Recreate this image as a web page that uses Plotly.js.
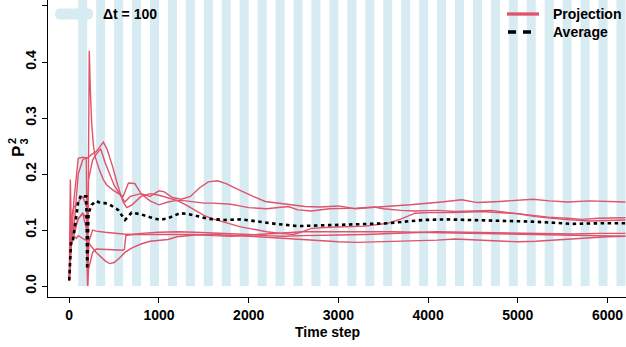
<!DOCTYPE html>
<html>
<head>
<meta charset="utf-8">
<script src="https://cdn.plot.ly/plotly-3.0.1.min.js"></script>
<style>html,body{margin:0;padding:0;background:#fff;}#chart{width:626px;height:347px;}</style>
</head>
<body>
<div id="chart"></div>
<script>
// ---- data ----
const xTickVals = [0, 1000, 2000, 3000, 4000, 5000, 6000];
const yTickVals = [0.0, 0.1, 0.2, 0.3, 0.4, 0.5];
const yTickText = ["0.0", "0.1", "0.2", "0.3", "0.4", "0.5"];
const dt = 100;          // stripe width (Δt)
const stripeEnd = 6400;  // stripes run past right edge

// Projection 1 (top line, hump near t=1600)
const t1 = [0,12,25,60,100,150,190,200,215,260,300,350,400,450,500,560,620,680,800,900,1000,1060,1150,1250,1350,1450,1550,1650,1750,1850,1950,2050,2184,2400,2627,2800,3000,3186,3400,3600,3800,3966,4150,4375,4550,4800,5000,5170,5350,5560,5800,6000,6200];
const y1 = [0.01,0.19,0.08,0.12,0.20,0.225,0.23,0.05,0.19,0.225,0.235,0.245,0.22,0.20,0.18,0.165,0.15,0.16,0.165,0.16,0.17,0.168,0.158,0.155,0.16,0.175,0.186,0.188,0.183,0.175,0.167,0.16,0.151,0.146,0.142,0.141,0.143,0.138,0.141,0.143,0.145,0.148,0.15,0.154,0.149,0.151,0.153,0.155,0.152,0.150,0.152,0.151,0.150];

// Projection 2 (spike to 0.42)
const t2 = [0,15,50,100,150,195,205,215,223,235,250,270,290,330,380,420,500,600,660,730,800,900,1000,1100,1200,1300,1400,1500,1600,1700,1800,1900,2000,2200,2440,2550,2700,2900,3000,3200,3400,3500,3700,3855,4100,4300,4500,4700,4900,5100,5340,5550,5713,5900,6200];
const y2 = [0.01,0.07,0.09,0.12,0.13,0.10,0.0,0.25,0.42,0.35,0.29,0.25,0.23,0.21,0.19,0.18,0.17,0.16,0.184,0.183,0.165,0.152,0.145,0.15,0.153,0.152,0.15,0.148,0.148,0.147,0.146,0.143,0.14,0.138,0.142,0.136,0.134,0.138,0.138,0.139,0.141,0.138,0.135,0.134,0.135,0.133,0.134,0.135,0.131,0.127,0.123,0.121,0.119,0.121,0.122];

// Projection 3 (peak 0.258 near t=400, later descends then rises)
const t3 = [0,20,50,100,150,200,250,300,380,420,480,540,600,640,700,800,900,1000,1100,1200,1300,1400,1500,1600,1700,1800,1900,2000,2100,2200,2350,2500,2600,2700,2900,3100,3300,3550,3700,3855,4000,4300,4600,5000,5200,5500,5800,6000,6200];
const y3 = [0.01,0.06,0.15,0.228,0.23,0.228,0.235,0.24,0.257,0.245,0.215,0.18,0.15,0.14,0.145,0.16,0.165,0.162,0.157,0.153,0.145,0.135,0.126,0.12,0.115,0.11,0.106,0.103,0.10,0.097,0.094,0.092,0.097,0.103,0.105,0.106,0.107,0.112,0.12,0.13,0.131,0.131,0.133,0.129,0.124,0.119,0.116,0.117,0.118];

// Projection 4 (flat near 0.095)
const t4 = [0,15,50,100,150,195,205,220,260,300,400,500,600,700,800,1000,1200,1400,1600,1800,2000,2200,2400,2600,2800,3000,3300,3600,3855,4100,4400,4700,5000,5300,5600,5900,6200];
const y4 = [0.01,0.08,0.10,0.12,0.13,0.12,0.02,0.08,0.10,0.098,0.096,0.094,0.093,0.092,0.094,0.096,0.097,0.096,0.095,0.094,0.092,0.09,0.089,0.09,0.091,0.091,0.092,0.094,0.096,0.097,0.096,0.095,0.094,0.094,0.093,0.094,0.094];

// Projection 5 (dip to 0.04 near t=450)
const t5 = [0,20,50,80,100,150,200,300,400,450,500,560,620,700,800,900,1000,1100,1200,1300,1400,1600,1800,2000,2200,2400,2600,2800,3000,3200,3500,3855,4100,4300,4600,4800,5000,5200,5500,5800,6000,6200];
const y5 = [0.01,0.07,0.09,0.085,0.09,0.085,0.08,0.06,0.045,0.04,0.042,0.05,0.06,0.068,0.075,0.08,0.082,0.083,0.088,0.09,0.091,0.092,0.091,0.089,0.087,0.085,0.082,0.08,0.079,0.078,0.079,0.08,0.082,0.084,0.082,0.08,0.079,0.08,0.083,0.087,0.088,0.089];

// Projection 6 (0.064 plateau, jump near t=620)
const t6 = [0,20,50,100,150,195,205,215,260,300,400,500,600,615,630,700,800,900,1000,1200,1400,1600,1800,2000,2200,2400,2600,2800,3000,3300,3600,3855,4200,4600,5000,5400,5800,6200];
const y6 = [0.01,0.12,0.14,0.15,0.16,0.14,0.0,0.03,0.06,0.066,0.065,0.065,0.064,0.066,0.09,0.092,0.092,0.091,0.092,0.091,0.092,0.09,0.089,0.091,0.093,0.096,0.097,0.097,0.097,0.098,0.097,0.096,0.095,0.094,0.093,0.092,0.090,0.089];

// Average (black dotted)
const tAvg = [0,8,20,40,70,100,130,160,190,200,215,250,300,350,400,454,544,622,695,800,900,1011,1100,1234,1300,1402,1547,1736,1922,2182,2300,2550,2800,3000,3300,3553,3800,3966,4200,4500,4800,5156,5400,5600,5900,6200];
const yAvg = [0.01,0.03,0.08,0.08,0.12,0.15,0.162,0.16,0.16,0.03,0.13,0.145,0.152,0.148,0.148,0.145,0.136,0.118,0.131,0.128,0.123,0.118,0.121,0.13,0.129,0.126,0.12,0.118,0.119,0.113,0.111,0.107,0.108,0.109,0.111,0.112,0.116,0.118,0.119,0.118,0.117,0.115,0.113,0.111,0.112,0.112];

const legendBandText = "Δt = 100";
const legendProjText = "Projection";
const legendAvgText = "Average";
const xTitle = "Time step";
const yTitleMain = "P";
const yTitleSub = "3";
const yTitleSup = "2";

// ---- styling ----
const RED = "#DF536B";
const BAND = "rgba(173,216,230,0.5)";
const FONT = "Liberation Sans, Arial, Helvetica, sans-serif";
const W = 626, H = 347;
const M = {l: 48, r: 0, t: 0, b: 50};
const PW = W - M.l - M.r, PH = H - M.t - M.b;
const px = v => (v - M.l) / PW;      // pixel -> paper x
const py = v => 1 - (v - M.t) / PH;  // pixel -> paper y

const projT = [t1, t2, t3, t4, t5, t6];
const projY = [y1, y2, y3, y4, y5, y6];

const traces = projT.map((t, i) => ({
  x: t, y: projY[i], type: "scatter", mode: "lines",
  line: {color: RED, width: 1.4}, hoverinfo: "skip", showlegend: false
}));
traces.push({
  x: tAvg, y: yAvg, type: "scatter", mode: "lines",
  line: {color: "#000", width: 2.6, dash: "3.5px,3.5px"},
  hoverinfo: "skip", showlegend: false
});

const shapes = [];
for (let s = dt; s < stripeEnd; s += 2 * dt) {
  shapes.push({type: "rect", xref: "x", yref: "y", x0: s, x1: s + dt, y0: 0, y1: 0.6,
    fillcolor: BAND, line: {width: 0}, layer: "below"});
}
// legend: rounded light-blue bar
(function () {
  const x0 = px(55), x1 = px(93), yt = py(8.5), yb = py(19.5), ym = py(14);
  const rx = 5.5 / PW;
  const d = `M${x0 + rx},${yt} L${x1 - rx},${yt} Q${x1},${yt} ${x1},${ym} Q${x1},${yb} ${x1 - rx},${yb} ` +
            `L${x0 + rx},${yb} Q${x0},${yb} ${x0},${ym} Q${x0},${yt} ${x0 + rx},${yt} Z`;
  shapes.push({type: "path", xref: "paper", yref: "paper", path: d, fillcolor: "rgb(214,235,242)", line: {width: 0}});
})();
shapes.push({type: "line", xref: "paper", yref: "paper", x0: px(507), x1: px(539), y0: py(14), y1: py(14),
  line: {color: RED, width: 3.3}});
shapes.push({type: "line", xref: "paper", yref: "paper", x0: px(508), x1: px(532), y0: py(32), y1: py(32),
  line: {color: "#000", width: 3.3, dash: "8px,7px"}});

const annFont = {family: FONT, size: 14, color: "#000", weight: "bold"};
const annotations = [
  {text: legendBandText, xref: "paper", yref: "paper", x: px(101), y: py(14), xanchor: "left", yanchor: "middle", showarrow: false, font: annFont},
  {text: legendProjText, xref: "paper", yref: "paper", x: px(551), y: py(14), xanchor: "left", yanchor: "middle", showarrow: false, font: annFont},
  {text: legendAvgText, xref: "paper", yref: "paper", x: px(551), y: py(32), xanchor: "left", yanchor: "middle", showarrow: false, font: annFont},
  {text: xTitle, xref: "paper", yref: "paper", x: px(327), y: py(332), xanchor: "center", yanchor: "middle", showarrow: false, font: annFont},
  {text: yTitleMain, xref: "paper", yref: "paper", x: px(18), y: py(152), xanchor: "center", yanchor: "middle", textangle: -90, showarrow: false,
   font: {family: FONT, size: 17, color: "#000", weight: "bold"}},
  {text: yTitleSub, xref: "paper", yref: "paper", x: px(23.5), y: py(142), xanchor: "center", yanchor: "middle", textangle: -90, showarrow: false,
   font: {family: FONT, size: 11, color: "#000", weight: "bold"}},
  {text: yTitleSup, xref: "paper", yref: "paper", x: px(12), y: py(141), xanchor: "center", yanchor: "middle", textangle: -90, showarrow: false,
   font: {family: FONT, size: 11, color: "#000", weight: "bold"}}
];

const layout = {
  width: W, height: H, margin: M,
  paper_bgcolor: "#fff", plot_bgcolor: "#fff",
  showlegend: false,
  font: {family: FONT, size: 14, color: "#000"},
  xaxis: {
    range: [-237, 6206], showgrid: false, zeroline: false,
    showline: true, linecolor: "#000", linewidth: 1, mirror: false,
    ticks: "outside", ticklen: 5, tickcolor: "#000", tickwidth: 1,
    tickvals: xTickVals, ticktext: xTickVals.map(String),
    tickfont: {family: FONT, size: 14, color: "#000", weight: "bold"}
  },
  yaxis: {
    range: [-0.0196, 0.5107], showgrid: false, zeroline: false,
    showline: true, linecolor: "#000", linewidth: 1, mirror: false,
    ticks: "outside", ticklen: 5, tickcolor: "#000", tickwidth: 1,
    tickvals: yTickVals, ticktext: yTickText, tickangle: -90,
    tickfont: {family: FONT, size: 14, color: "#000", weight: "bold"}
  },
  shapes: shapes,
  annotations: annotations
};

Plotly.newPlot("chart", traces, layout, {staticPlot: true, displayModeBar: false});
</script>
</body>
</html>
